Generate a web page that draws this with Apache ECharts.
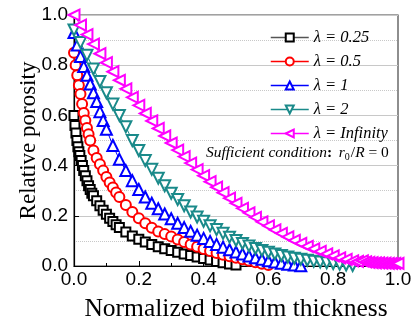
<!DOCTYPE html>
<html><head><meta charset="utf-8">
<script src="https://cdn.jsdelivr.net/npm/echarts@6/dist/echarts.min.js"></script>
<style>html,body{margin:0;padding:0;background:#fff}#c{width:416px;height:327px}</style>
</head><body><div id="c"></div>
<script>
const seriesNames = ['λ = 0.25', 'λ = 0.5', 'λ = 1', 'λ = 2', 'λ = Infinity'];
const xTicks = ['0.0','0.2','0.4','0.6','0.8','1.0'];

const x025 = [0,0.003,0.006,0.009,0.012,0.015,0.018,0.022,0.026,0.03,0.035,0.04,0.045,0.05,0.055,0.06,0.07,0.08,0.09,0.10,0.11,0.12,0.13,0.14,0.16,0.18,0.20,0.22,0.24,0.26,0.28,0.30,0.32,0.34,0.36,0.38,0.40,0.42,0.44,0.46,0.48,0.50];
const y025 = [0.6,0.56,0.53,0.5,0.475,0.455,0.44,0.42,0.4,0.38,0.36,0.34,0.32,0.305,0.29,0.28,0.26,0.24,0.222,0.206,0.19,0.177,0.164,0.153,0.135,0.12,0.107,0.096,0.086,0.077,0.069,0.062,0.055,0.048,0.042,0.036,0.03,0.024,0.018,0.013,0.008,0.004];

const x05 = [0,0.005,0.01,0.015,0.02,0.025,0.03,0.035,0.04,0.045,0.05,0.06,0.07,0.08,0.09,0.10,0.11,0.12,0.13,0.14,0.16,0.18,0.20,0.22,0.24,0.26,0.28,0.30,0.32,0.34,0.36,0.38,0.40,0.42,0.44,0.46,0.48,0.50,0.52,0.54,0.56,0.58,0.60];
const y05 = [0.85,0.8,0.76,0.72,0.685,0.645,0.61,0.58,0.55,0.525,0.5,0.46,0.43,0.405,0.38,0.355,0.333,0.313,0.293,0.275,0.243,0.215,0.19,0.17,0.152,0.137,0.127,0.118,0.106,0.096,0.086,0.077,0.068,0.06,0.052,0.045,0.039,0.033,0.027,0.021,0.015,0.009,0.004];

const x1 = [0,0.01,0.02,0.03,0.04,0.05,0.06,0.07,0.08,0.09,0.10,0.12,0.14,0.16,0.18,0.20,0.22,0.24,0.26,0.28,0.30,0.32,0.34,0.36,0.38,0.40,0.42,0.44,0.46,0.48,0.50,0.52,0.54,0.56,0.58,0.60,0.62,0.64,0.66,0.68,0.70];
const y1 = [0.93,0.88,0.835,0.795,0.76,0.725,0.69,0.655,0.615,0.58,0.545,0.48,0.425,0.38,0.34,0.305,0.275,0.25,0.228,0.207,0.188,0.17,0.153,0.138,0.123,0.11,0.098,0.086,0.075,0.065,0.056,0.048,0.04,0.033,0.027,0.021,0.016,0.011,0.007,0.004,0.001];

const x2 = [0,0.02,0.04,0.06,0.08,0.10,0.12,0.14,0.16,0.18,0.20,0.22,0.24,0.26,0.28,0.30,0.32,0.34,0.36,0.38,0.40,0.42,0.44,0.46,0.48,0.50,0.52,0.54,0.56,0.58,0.60,0.62,0.64,0.66,0.68,0.70,0.72,0.74,0.76,0.78,0.80,0.82,0.84,0.86];
const y2 = [0.94,0.89,0.84,0.785,0.735,0.69,0.645,0.6,0.555,0.5,0.46,0.42,0.385,0.35,0.32,0.29,0.265,0.24,0.215,0.195,0.178,0.16,0.145,0.13,0.115,0.102,0.09,0.08,0.07,0.062,0.055,0.048,0.042,0.036,0.031,0.027,0.023,0.019,0.016,0.013,0.01,0.007,0.004,0.002];

const xInf = [0,0.02,0.04,0.06,0.08,0.10,0.12,0.14,0.16,0.18,0.20,0.22,0.24,0.26,0.28,0.30,0.32,0.34,0.36,0.38,0.40,0.42,0.44,0.46,0.48,0.50,0.52,0.54,0.56,0.58,0.60,0.62,0.64,0.66,0.68,0.70,0.72,0.74,0.76,0.78,0.80,0.82,0.84,0.86,0.875,0.89,0.90,0.91,0.92,0.93,0.94,0.95,0.96,0.97,0.98,0.99,1.0];
const yInf = [1.0,0.96,0.922,0.884,0.846,0.81,0.774,0.74,0.706,0.672,0.64,0.608,0.578,0.548,0.518,0.49,0.462,0.436,0.41,0.384,0.36,0.336,0.314,0.292,0.27,0.25,0.23,0.212,0.194,0.176,0.16,0.144,0.13,0.116,0.102,0.09,0.078,0.068,0.058,0.048,0.04,0.032,0.026,0.02,0.018,0.02,0.016,0.014,0.013,0.012,0.012,0.011,0.011,0.01,0.01,0.01,0.01];

const colors = ['#000000','#ff0000','#0000ff','#1a8a8a','#ff00ff'];
const legendLineColors = ['#555555','#ff0000','#0000ff','#1a8a8a','#ff00ff'];
const symbols = ['emptyRect','emptyCircle','emptyTriangle','emptyTriangle','emptyTriangle'];
const rotates = [0,0,0,180,90];
const sizes = [9,10,11,11,11];
const xs = [x025,x05,x1,x2,xInf];
const ys = [y025,y05,y1,y2,yInf];

const chart = echarts.init(document.getElementById('c'), null, {renderer:'canvas'});
const series = seriesNames.map((n,i)=>({
  name:n, type:'line', data: xs[i].map((x,j)=>[x, ys[i][j]]),
  symbol: symbols[i], symbolSize: sizes[i], symbolRotate: rotates[i],
  lineStyle:{color:colors[i], width:1}, itemStyle:{color:colors[i], borderWidth:1},
  animation:false, clip:true
}));
const serif = 'Liberation Serif';
chart.setOption({
  animation:false,
  grid:{left:74, right:18, top:15, bottom:60, show:true, borderColor:'#444', borderWidth:1.2},
  legend:{
    orient:'vertical', left:270, top:29, padding:0, itemWidth:38, itemHeight:10, itemGap:7,
    data: seriesNames.map((n,i)=>({name:n, lineStyle:{color:legendLineColors[i], width:1.5}})),
    textStyle:{fontFamily:serif, fontStyle:'italic', fontSize:16.5, color:'#000'}
  },
  xAxis:{
    type:'value', min:0, max:1, interval:0.2,
    name:'Normalized biofilm thickness', nameLocation:'middle', nameGap:30,
    nameTextStyle:{fontFamily:serif, fontSize:25.5, color:'#000'},
    axisLine:{lineStyle:{color:'#000', width:1.2}},
    axisTick:{inside:true, length:5, lineStyle:{color:'#000'}},
    minorTick:{show:true, splitNumber:2, length:3, lineStyle:{color:'#000'}},
    axisLabel:{fontFamily:'Liberation Sans', fontSize:19, color:'#000', margin:4, formatter:v=>v.toFixed(1)},
    splitLine:{show:false}
  },
  yAxis:{
    type:'value', min:0, max:1, interval:0.2,
    name:'Relative porosity', nameLocation:'middle', nameGap:34, nameMoveOverlap:false,
    nameTextStyle:{fontFamily:serif, fontSize:23, color:'#000'},
    axisLine:{lineStyle:{color:'#000', width:1.2}},
    axisTick:{inside:true, length:5, lineStyle:{color:'#000'}},
    minorTick:{show:false, splitNumber:2},
    axisLabel:{fontFamily:'Liberation Sans', fontSize:19, color:'#000', margin:6, formatter:v=>v.toFixed(1)},
    splitLine:{show:true, lineStyle:{color:'#c8c8c8', width:1}},
    minorSplitLine:{show:true, lineStyle:{color:'#c8c8c8', type:'dotted', width:1}}
  },
  graphic:[{
    type:'text', left:206, top:145,
    style:{
      text:'{i|Sufficient condition}{b|:}  {i|r}{s|0}{n|/}{i|R}{n| = 0}',
      rich:{
        i:{fontFamily:serif, fontStyle:'italic', fontSize:15.5, fill:'#000'},
        b:{fontFamily:serif, fontWeight:'bold', fontSize:15.5, fill:'#000'},
        s:{fontFamily:serif, fontSize:10, fill:'#000', padding:[9,1,0,0]},
        n:{fontFamily:serif, fontSize:15.5, fill:'#000'}
      }
    }, z:100
  }],
  series: series
});
</script></body></html>
